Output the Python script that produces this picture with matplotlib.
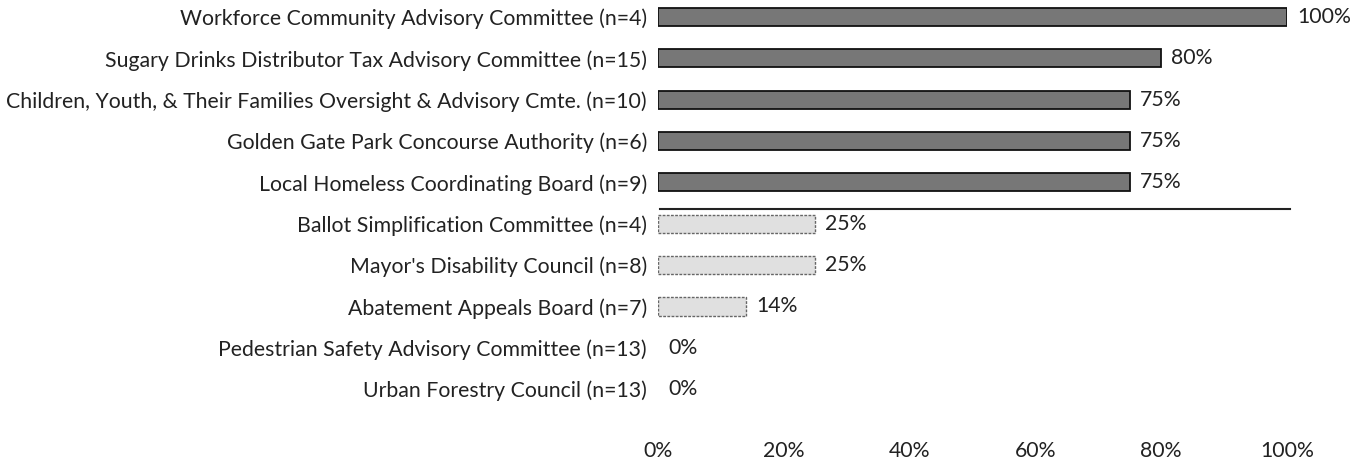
import matplotlib.pyplot as plt
import numpy as np

plt.rcParams['font.family'] = ['Lato', 'DejaVu Sans']

# committee labels (top to bottom) and share values
labels = [
    "Workforce Community Advisory Committee (n=4)",
    "Sugary Drinks Distributor Tax Advisory Committee (n=15)",
    "Children, Youth, & Their Families Oversight & Advisory Cmte. (n=10)",
    "Golden Gate Park Concourse Authority (n=6)",
    "Local Homeless Coordinating Board (n=9)",
    "Ballot Simplification Committee (n=4)",
    "Mayor's Disability Council (n=8)",
    "Abatement Appeals Board (n=7)",
    "Pedestrian Safety Advisory Committee (n=13)",
    "Urban Forestry Council (n=13)",
]
values = [1.00, 0.80, 0.75, 0.75, 0.75, 0.25, 0.25, 0.14, 0.0, 0.0]
value_text = ["100%", "80%", "75%", "75%", "75%", "25%", "25%", "14%", "0%", "0%"]
high_group = [True, True, True, True, True, False, False, False, False, False]

ticks = [0, 0.2, 0.4, 0.6, 0.8, 1.0]
tick_labels = ["0%", "20%", "40%", "60%", "80%", "100%"]

FS = 15.3
W, H = 1357, 470
fig = plt.figure(figsize=(W / 100, H / 100), dpi=100)
ax = fig.add_axes([658 / W, 30 / H, 629 / W, 440 / H])

y = np.arange(len(labels))
for yi, v, h in zip(y, values, high_group):
    if v > 0:
        ax.barh(yi, v, height=0.44,
                color='#777777' if h else '#e0e0e0',
                edgecolor='#111111' if h else '#666666',
                linewidth=1.3 if h else 1.0,
                linestyle='-' if h else (0, (2, 1)))

for yi, v, t in zip(y, values, value_text):
    ax.annotate(t, (v, yi), xytext=(10, 0), textcoords='offset pixels',
                va='center', ha='left', fontsize=FS, color='#222222')

# separator between the two groups
ax.axhline(4.65, xmin=0.003, xmax=1.005, color='#222222', linewidth=1.5, clip_on=False)

ax.set_yticks(y)
ax.set_yticklabels(labels, fontsize=FS, color='#222222')
ax.set_xticks(ticks)
ax.set_xticklabels(tick_labels, fontsize=FS, color='#222222')
ax.set_xlim(0, 1.0)
ax.set_ylim(10.23, -0.41)
ax.tick_params(axis='both', length=0)
ax.tick_params(axis='y', pad=8)
ax.tick_params(axis='x', pad=1)
for s in ax.spines.values():
    s.set_visible(False)

fig.savefig('out.png', dpi=100)
